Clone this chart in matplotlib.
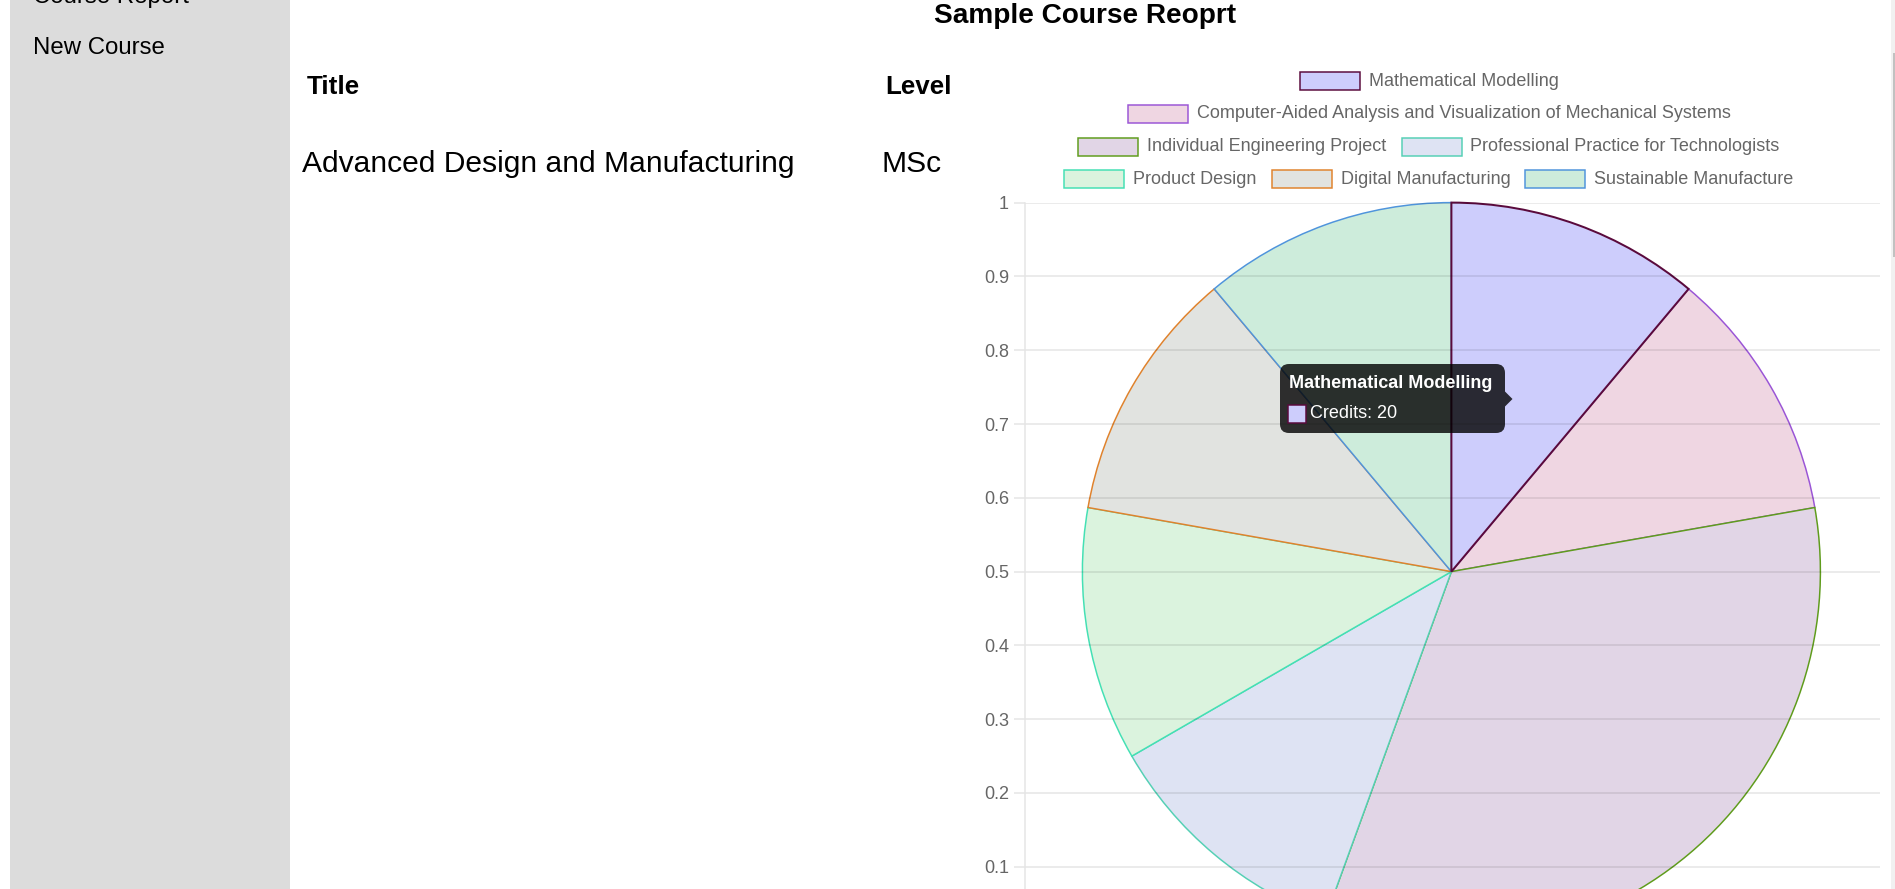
import matplotlib
matplotlib.use('Agg')
import matplotlib.pyplot as plt
import numpy as np
from matplotlib.patches import Rectangle, FancyBboxPatch, Polygon
from matplotlib.ticker import FuncFormatter

plt.rcParams['font.family'] = ['Liberation Sans', 'DejaVu Sans']

# page content
nav_items = ["Course Report", "New Course"]
page_title = "Sample Course Reoprt"
table_headers = ["Title", "Level"]
course_title = "Advanced Design and Manufacturing"
course_level = "MSc"

# chart data
courses = ["Mathematical Modelling",
           "Computer-Aided Analysis and Visualization of Mechanical Systems",
           "Individual Engineering Project",
           "Professional Practice for Technologists",
           "Product Design",
           "Digital Manufacturing",
           "Sustainable Manufacture"]
credits = [20, 20, 60, 20, 20, 20, 20]
fill_colors = ["#cdcdfc", "#efd6e2", "#e1d5e6", "#dee3f3", "#dbf3de", "#e1e3e0", "#cdecdb"]
border_colors = ["#5a0a3c", "#9a55d6", "#5f9c1c", "#55d0b5", "#44e0b4", "#e0822c", "#4f94dc"]
legend_rows = [[0], [1], [2, 3], [4, 5, 6]]
hovered = 0

W, H = 1895, 889
fig = plt.figure(figsize=(W / 100, H / 100), dpi=100)
PX = 0.72  # points per pixel


def box(l, t, r, b):
    return [l / W, 1 - b / H, (r - l) / W, (b - t) / H]


# y axis with grid (drawn over the pie)
ax = fig.add_axes(box(1025, 202.7, 1880, 940.5), zorder=2)
ax.patch.set_alpha(0)
ax.set_ylim(0, 1)
ax.set_xlim(0, 1)
ax.set_yticks(np.linspace(0.1, 1, 10))
ax.yaxis.set_major_formatter(FuncFormatter(lambda v, p: f"{v:g}"))
ax.set_xticks([])
for s in ["top", "right", "bottom"]:
    ax.spines[s].set_visible(False)
grid_c = "#e5e5e5"
ax.spines["left"].set_color(grid_c)
ax.spines["left"].set_linewidth(1.5 * PX)
ax.grid(True, axis="y", color="black", alpha=0.1, linewidth=1.5 * PX)
ax.tick_params(axis="y", length=11 * PX, width=1.5 * PX, color=grid_c,
               pad=5 * PX, labelsize=13, labelcolor="#666666")

# pie
r = 369
cx, cy = 1451.4, 571.6
pax = fig.add_axes(box(cx - r, cy - r, cx + r, cy + r), zorder=1)
wedges, _ = pax.pie(credits, colors=fill_colors, startangle=90, counterclock=False,
                    wedgeprops=dict(linewidth=1.5 * PX))
for w, c in zip(wedges, border_colors):
    w.set_edgecolor(c)
# hovered slice is redrawn on top
wedges[hovered].set_zorder(3)
wedges[hovered].set_linewidth(2 * PX)
pax.set_xlim(-1, 1)
pax.set_ylim(-1, 1)
pax.axis("off")

# overlay in pixel coordinates
ov = fig.add_axes([0, 0, 1, 1], zorder=5)
ov.set_xlim(0, W)
ov.set_ylim(H, 0)
ov.axis("off")

# sidebar
ov.add_patch(Rectangle((10, -10), 280, H + 20, fc="#dcdcdc", ec="none"))
ov.text(33, 3, nav_items[0], fontsize=17.3, va="baseline")
ov.text(33, 54.5, nav_items[1], fontsize=17.3, va="baseline")

# scrollbar
ov.add_patch(Rectangle((1891, 0), 4, H, fc="#f1f1f1", ec="none"))
ov.add_patch(Rectangle((1893, 53), 2, 204, fc="#c1c1c1", ec="none"))

# header / table
ov.text(1085, 23, page_title, fontsize=20.2, fontweight="bold", ha="center", va="baseline")
ov.text(307, 94, table_headers[0], fontsize=18.7, fontweight="bold", va="baseline")
ov.text(885, 94, table_headers[1], fontsize=18.7, fontweight="bold", va="baseline")
ov.text(302, 171.5, course_title, fontsize=21.6, va="baseline")
ov.text(881, 171.5, course_level, fontsize=21.6, va="baseline")

# legend
renderer = fig.canvas.get_renderer()
row_y = [81, 113.5, 146.5, 179]
leg_cx = 1429
bw, bh, tgap, igap = 60, 18, 9, 15
for ri, row in enumerate(legend_rows):
    texts = [ov.text(0, row_y[ri], courses[i], fontsize=13, color="#666666", va="center")
             for i in row]
    widths = [t.get_window_extent(renderer).width for t in texts]
    total = sum(bw + tgap + w for w in widths) + igap * (len(row) - 1)
    x = leg_cx - total / 2
    for i, t, w in zip(row, texts, widths):
        ov.add_patch(Rectangle((x, row_y[ri] - bh / 2), bw, bh, fc=fill_colors[i],
                               ec=border_colors[i], lw=1.5 * PX))
        t.set_x(x + bw + tgap)
        x += bw + tgap + w + igap

# tooltip
ov.add_patch(FancyBboxPatch((1280, 364), 225, 69, boxstyle="round,pad=0,rounding_size=9",
                            fc=(0, 0, 0, 0.8), ec="none"))
ov.add_patch(Polygon([(1505, 391.5), (1512.5, 399), (1505, 406.5)], closed=True,
                     fc=(0, 0, 0, 0.8), ec="none"))
ov.text(1289, 384, courses[hovered], fontsize=13, fontweight="bold", color="white", va="center")
ov.add_patch(Rectangle((1288, 405), 18, 18, fc=fill_colors[hovered],
                       ec=border_colors[hovered], lw=1.5 * PX))
ov.text(1310, 414, f"Credits: {credits[hovered]}", fontsize=13, color="white", va="center")

fig.savefig("out.png", dpi=100)
